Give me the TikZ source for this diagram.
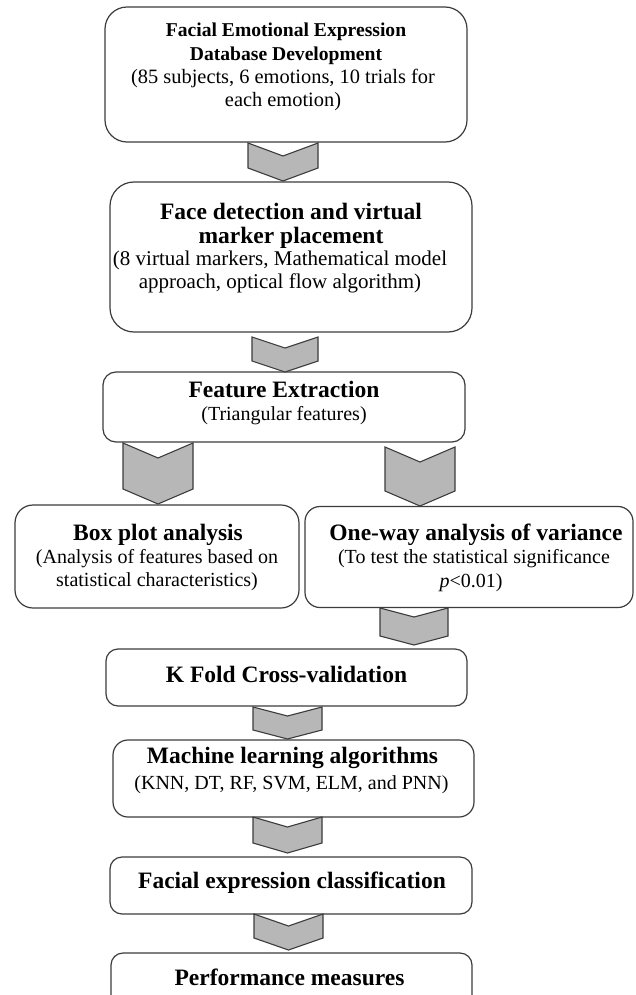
\documentclass[tikz,border=0pt]{standalone}
\usepackage{fontspec}
\setmainfont{Liberation Serif}
\definecolor{edge}{HTML}{3C3C3C}
\definecolor{chevfill}{HTML}{B7B7B7}
\newcommand{\chevron}[5]{%
  \draw[chev] (#1,#3) -- ({(#1+#2)/2},{#3+#5}) -- (#2,#3) -- (#2,{#4-#5})
    -- ({(#1+#2)/2},#4) -- (#1,{#4-#5}) -- cycle;}
\begin{document}
\begin{tikzpicture}[x=1pt,y=-1pt,
  box/.style={draw=edge, line width=1.2pt, fill=white, rounded corners=#1,
    inner sep=0pt, outer sep=0pt},
  box/.default=12pt,
  chev/.style={draw=edge, fill=chevfill, line width=1.1pt, line join=miter},
  ttl/.style={anchor=base, inner sep=0pt, font=\fontsize{23.5}{24}\selectfont\bfseries},
  sub/.style={anchor=base, inner sep=0pt, font=\fontsize{20}{22}\selectfont}]
\useasboundingbox (0,0) rectangle (635,995);
\clip (0,0) rectangle (635,995);
\fill[white] (0,0) rectangle (635,995);

% boxes (left, top) -- (right, bottom)
\node[box=22pt, minimum width=362pt, minimum height=135pt] (b1) at (286,74.5) {};
\node[box=24pt, minimum width=362pt, minimum height=150pt] (b2) at (291,257) {};
\node[box=13pt, minimum width=362pt, minimum height=70pt] (b3) at (284,407) {};
\node[box=18pt, minimum width=284pt, minimum height=103pt] (bp) at (157,556.5) {};
\node[box=15pt, minimum width=328pt, minimum height=101pt] (ow) at (469,557) {};
\node[box=12pt, minimum width=361pt, minimum height=57pt] (kf) at (286.5,677.5) {};
\node[box=15pt, minimum width=361pt, minimum height=77pt] (ml) at (293.5,778.5) {};
\node[box=12pt, minimum width=362pt, minimum height=57pt] (fe) at (291,885.5) {};
\node[box=12pt, minimum width=361pt, minimum height=70pt] (pm) at (291.5,988) {};

% chevrons
\chevron{248}{318}{143}{181}{13}
\chevron{252}{318}{337}{372}{11}
\chevron{123}{193}{443}{504}{15}
\chevron{385}{455}{447}{506}{15}
\chevron{380}{448}{608}{645}{9}
\chevron{253}{322}{707}{739}{9}
\chevron{253}{322}{817}{853}{10}
\chevron{254}{323}{914}{950}{12}

% texts
\begin{scope}[every node/.append style={}]
\node[ttl, font=\fontsize{19.6}{22}\selectfont\bfseries] (t1a) at (286,37) {Facial Emotional Expression};
\node[ttl, font=\fontsize{19.6}{22}\selectfont\bfseries] (t1b) at (286,61) {Database Development};
\node[sub, font=\fontsize{20.4}{22}\selectfont] (t1c) at (283,84) {(85 subjects, 6 emotions, 10 trials for};
\node[sub, font=\fontsize{20.4}{22}\selectfont] (t1d) at (283,107) {each emotion)};

\node[ttl] (t2a) at (291,219) {Face detection and virtual};
\node[ttl] (t2b) at (291,243) {marker placement};
\node[sub, font=\fontsize{21}{22}\selectfont] (t2c) at (280,265) {(8 virtual markers, Mathematical model};
\node[sub, font=\fontsize{21}{22}\selectfont] (t2d) at (280,288) {approach, optical flow algorithm)};

\node[ttl] (t3a) at (284,397) {Feature Extraction};
\node[sub] (t3b) at (284,420) {(Triangular features)};

\node[ttl] (tba) at (158,540) {Box plot analysis};
\node[sub] (tbb) at (157,563) {(Analysis of features based on};
\node[sub] (tbc) at (157,586) {statistical characteristics)};

\node[ttl] (toa) at (476,540) {One-way analysis of variance};
\node[sub] (tob) at (474,563) {(To test the statistical significance};
\node[sub] (toc) at (471,587) {\textit{p}<0.01)};

\node[ttl] (tk) at (286.5,682) {K Fold Cross-validation};

\node[ttl] (tma) at (292.5,763) {Machine learning algorithms};
\node[sub] (tmb) at (291.5,789) {(KNN, DT, RF, SVM, ELM, and PNN)};

\node[ttl] (tf) at (292,888) {Facial expression classification};

\node[ttl] (tp) at (289.5,985) {Performance measures};
\end{scope}
\end{tikzpicture}
\end{document}
